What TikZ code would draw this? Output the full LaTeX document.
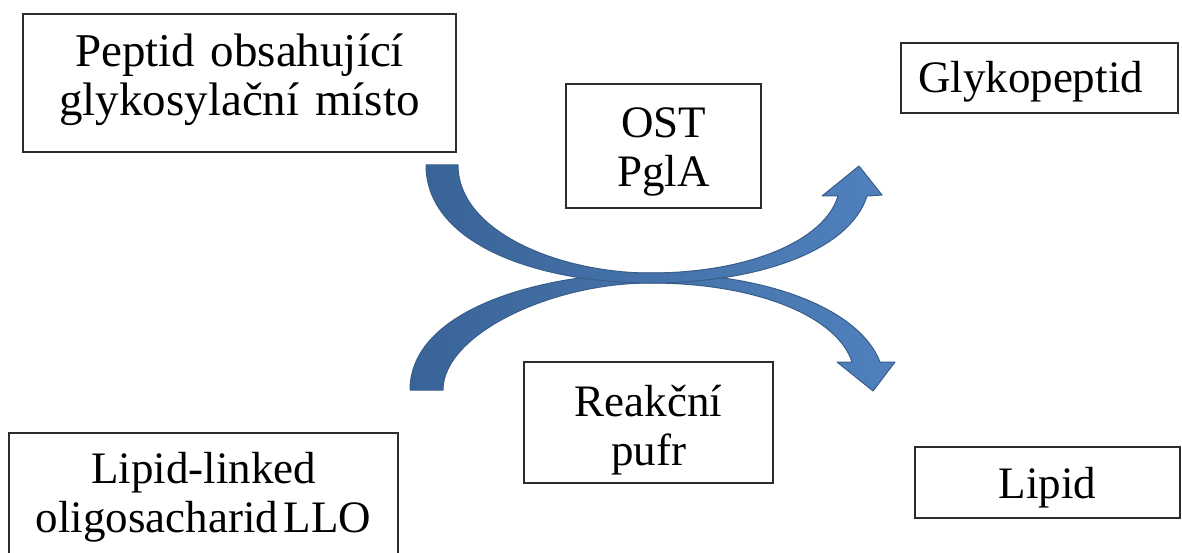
\documentclass[tikz,border=0pt]{standalone}
\usepackage{fontspec}
\setmainfont{Liberation Serif}
\definecolor{arrowdark}{RGB}{58,100,152}
\definecolor{arrowlight}{RGB}{80,129,189}
\definecolor{arrowline}{RGB}{56,93,138}
\definecolor{boxline}{RGB}{45,45,45}
\newcommand\lblfont{\fontsize{45}{49}\selectfont}
\newcommand\lblfontbig{\fontsize{47}{49}\selectfont}
\begin{document}
\begin{tikzpicture}[x=1pt,y=-1pt,
  box/.style={draw=boxline, line width=1.4pt, fill=white, inner sep=0pt,
    align=center, text height=34pt, font=\lblfont},
  bigarrow/.style={left color=arrowdark, right color=arrowlight,
    draw=arrowline, line width=1pt, line join=round}]
\useasboundingbox (0,0) rectangle (1182,553);

% substrates, enzyme, buffer and products
\node[box, minimum width=433pt, minimum height=138pt, text width=425pt,
  font=\lblfontbig, text depth=66pt] (peptid) at (239.5,83)
  {Peptid obsahující\\glykosylační místo};
\node[box, minimum width=195pt, minimum height=124pt, text width=185pt,
  text depth=50pt] (ost) at (663.5,146) {OST\\PglA};
\node[box, minimum width=277pt, minimum height=70pt, text width=243pt,
  align=left, text depth=4pt] (glyko) at (1039.5,78) {Glykopeptid};
\node[box, minimum width=249pt, minimum height=121pt, text width=240pt,
  text depth=47pt] (pufr) at (648.5,422.5) {Reakční\\pufr};
\node[box, minimum width=389pt, minimum height=142pt, text width=380pt,
  text depth=76pt] (llo) at (203.5,504)
  {Lipid-linked\\{\spaceskip=0.12em oligosacharid LLO}};
\node[box, minimum width=265pt, minimum height=71pt, text width=258pt,
  text depth=3pt] (lipid) at (1047.5,482.5) {Lipid};

% curved block arrow: lipid-linked oligosaccharide -> lipid
\shadedraw[bigarrow]
  (410,390) .. controls (410,310) and (540,273) .. (650,273)
  .. controls (770,273) and (860,310) .. (880,362)
  -- (895,362) -- (873,391) -- (837,362) -- (852,362)
  .. controls (838,318) and (760,283) .. (650,283)
  .. controls (550,283) and (443,335) .. (443,390) -- cycle;

% curved block arrow: peptide -> glycopeptide
\shadedraw[bigarrow]
  (426,165) .. controls (426,245) and (540,283) .. (650,283)
  .. controls (760,283) and (850,250) .. (867,196)
  -- (882,195) -- (859,166) -- (822,196) -- (838,196)
  .. controls (825,240) and (750,273) .. (650,273)
  .. controls (560,273) and (458,232) .. (458,165) -- cycle;
\end{tikzpicture}
\end{document}
